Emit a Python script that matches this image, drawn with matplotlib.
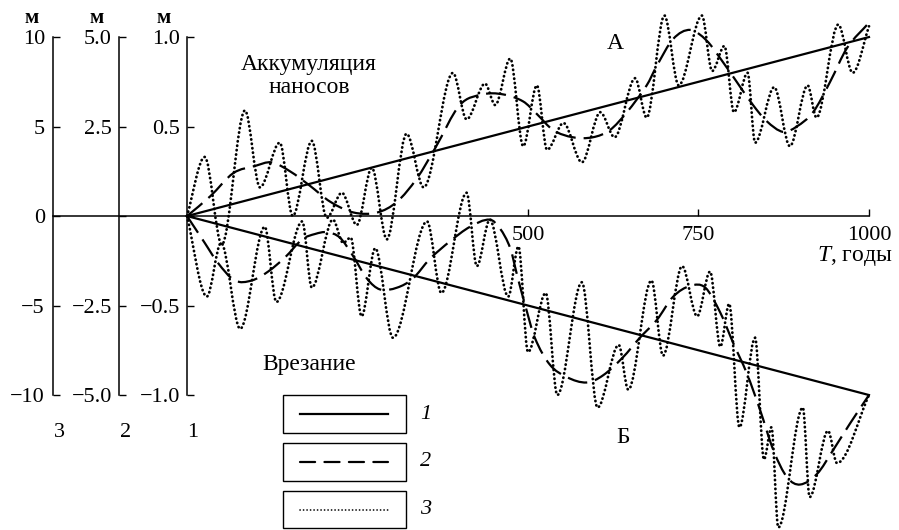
import matplotlib
matplotlib.use("Agg")
import matplotlib.pyplot as plt
from matplotlib.path import Path
from matplotlib.patches import PathPatch, Rectangle

plt.rcParams['font.family'] = ['Liberation Serif', 'DejaVu Serif']
plt.rcParams['mathtext.fontset'] = 'custom'
plt.rcParams['mathtext.rm'] = 'Liberation Serif'
plt.rcParams['mathtext.it'] = 'Liberation Serif:italic'

# T, years ; values in metres on scale 1
trend_t = [0, 1000]
trend_a = [0, 1.0]
trend_b = [0, -1.0]

# curve 2 (dashed), accumulation A
dash_a_t = [0, 34, 68, 100, 124, 151, 180, 210, 244, 279, 308, 337, 364, 400, 434, 463,
            493, 513, 537, 566, 595, 620, 645, 674, 689, 713, 738, 762, 784, 806, 830,
            850, 874, 894, 918, 943, 968, 1000]
dash_a_y = [0, 0.11, 0.24, 0.28, 0.30, 0.25, 0.17, 0.08, 0.02, 0.02, 0.08, 0.21, 0.38,
            0.62, 0.68, 0.68, 0.64, 0.57, 0.48, 0.44, 0.44, 0.48, 0.58, 0.73, 0.84, 0.99,
            1.04, 0.98, 0.87, 0.75, 0.62, 0.53, 0.47, 0.50, 0.58, 0.75, 0.94, 1.08]

# curve 2 (dashed), incision B
dash_b_t = [0, 26, 45, 70, 95, 119, 144, 169, 188, 205, 224, 243, 264, 283, 308, 331,
            356, 386, 415, 444, 459, 474, 484, 496, 510, 532, 557, 586, 610, 639, 664,
            689, 713, 738, 760, 782, 801, 821, 840, 860, 880, 899, 924, 947, 972, 1000]
dash_b_y = [0, -0.15, -0.26, -0.36, -0.36, -0.31, -0.23, -0.13, -0.10, -0.09, -0.12,
            -0.22, -0.35, -0.41, -0.40, -0.35, -0.24, -0.14, -0.06, -0.02, -0.07, -0.18,
            -0.33, -0.50, -0.68, -0.83, -0.90, -0.93, -0.89, -0.79, -0.68, -0.58, -0.45,
            -0.39, -0.40, -0.54, -0.71, -0.88, -1.08, -1.31, -1.46, -1.50, -1.44, -1.31,
            -1.16, -1.00]

# curve 3 (dotted), turning points, accumulation A
dot_a_t = [0, 26, 51, 85, 107, 136, 155, 183, 205, 227, 249, 271, 293, 322, 347, 390,
           410, 437, 452, 474, 493, 513, 528, 552, 579, 606, 627, 657, 674, 700, 721,
           755, 770, 788, 802, 822, 833, 861, 884, 910, 923, 955, 976, 1000]
dot_a_y = [0, 0.33, -0.16, 0.59, 0.16, 0.41, 0.00, 0.42, -0.01, 0.13, -0.05, 0.27, -0.13,
           0.46, 0.16, 0.80, 0.54, 0.74, 0.62, 0.88, 0.39, 0.73, 0.37, 0.52, 0.30, 0.58,
           0.44, 0.77, 0.55, 1.12, 0.73, 1.12, 0.81, 0.95, 0.58, 0.80, 0.41, 0.72, 0.39,
           0.73, 0.55, 1.07, 0.80, 1.06]

# curve 3 (dotted), turning points, incision B
dot_b_t = [0, 29, 50, 78, 114, 131, 169, 183, 214, 229, 240, 256, 276, 302, 352, 373,
           410, 425, 444, 471, 486, 500, 526, 543, 579, 602, 633, 647, 681, 698, 726,
           748, 767, 782, 795, 810, 833, 846, 857, 867, 903, 913, 940, 953, 1000]
dot_b_y = [0, -0.45, -0.15, -0.63, -0.06, -0.48, -0.03, -0.40, -0.02, -0.15, -0.12,
           -0.56, -0.18, -0.68, -0.03, -0.43, 0.13, -0.28, -0.02, -0.45, -0.17, -0.76,
           -0.43, -1.00, -0.37, -1.07, -0.72, -0.97, -0.36, -0.78, -0.28, -0.56, -0.31,
           -0.73, -0.49, -1.18, -0.68, -1.36, -1.18, -1.74, -1.07, -1.57, -1.20, -1.38,
           -1.00]

# scales: 1 (m), 2, 3
scale1_ticks = [-1.0, -0.5, 0, 0.5, 1.0]
scale1_labels = ['\u22121.0', '\u22120.5', '', '0.5', '1.0']
scale2_ticks = [-5.0, -2.5, 0, 2.5, 5.0]
scale2_labels = ['\u22125.0', '\u22122.5', '', '2.5', '5.0']
scale3_ticks = [-10, -5, 0, 5, 10]
scale3_labels = ['\u221210', '\u22125', '0', '5', '10']
t_ticks = [500, 750, 1000]
t_labels = ['500', '750', '1000']


def smooth(xs, ys, turning):
    # cubic pieces through the read points; flat tangents at turning points
    n = len(xs)
    slopes = []
    for i in range(n):
        if i == 0:
            s = (ys[1] - ys[0]) / (xs[1] - xs[0])
        elif i == n - 1:
            s = (ys[-1] - ys[-2]) / (xs[-1] - xs[-2])
        elif turning:
            s = 0.0
        else:
            s = (ys[i + 1] - ys[i - 1]) / (xs[i + 1] - xs[i - 1])
        slopes.append(s)
    verts = [(xs[0], ys[0])]
    codes = [Path.MOVETO]
    for i in range(n - 1):
        d = (xs[i + 1] - xs[i]) / 3
        verts += [(xs[i] + d, ys[i] + slopes[i] * d),
                  (xs[i + 1] - d, ys[i + 1] - slopes[i + 1] * d),
                  (xs[i + 1], ys[i + 1])]
        codes += [Path.CURVE4] * 3
    return Path(verts, codes)


fig = plt.figure(figsize=(8.99, 5.30), dpi=100)
ax = fig.add_axes([0, 0, 1, 1])
ax.set_xlim(-274.2, 1044.0)
ax.set_ylim(-1.754, 1.207)

ax.plot(trend_t, trend_a, color='black', lw=1.6)
ax.plot(trend_t, trend_b, color='black', lw=1.6)
for xs, ys in [(dash_a_t, dash_a_y), (dash_b_t, dash_b_y)]:
    ax.add_patch(PathPatch(smooth(xs, ys, False), fill=False, ec='black', lw=1.6,
                           ls=(0, (9, 3.6))))
for xs, ys in [(dot_a_t, dot_a_y), (dot_b_t, dot_b_y)]:
    ax.add_patch(PathPatch(smooth(xs, ys, True), fill=False, ec='black', lw=2.0,
                           ls=(0, (0.1, 1.5)), capstyle='round'))

# axes
ax.spines['top'].set_visible(False)
ax.spines['right'].set_visible(False)
ax.spines['left'].set_position(('data', 0))
ax.spines['left'].set_bounds(-1, 1)
ax.spines['bottom'].set_position(('data', 0))
ax.spines['bottom'].set_bounds(-196, 1000)
for s in ['left', 'bottom']:
    ax.spines[s].set_linewidth(1.1)
ax.set_yticks(scale1_ticks)
ax.set_yticklabels(scale1_labels)
ax.set_xticks(t_ticks)
ax.set_xticklabels(t_labels)
ax.tick_params(axis='y', direction='in', length=5, width=1, pad=5, labelsize=16)
ax.tick_params(axis='x', direction='in', length=5, width=1, pad=7, labelsize=16)

for xpos, factor, ticks, labels, pad in [(-100, 5, scale2_ticks, scale2_labels, 5),
                                          (-196, 10, scale3_ticks, scale3_labels, 6)]:
    tw = ax.twinx()
    tw.set_ylim(-1.754 * factor, 1.207 * factor)
    for s in ['top', 'right', 'bottom']:
        tw.spines[s].set_visible(False)
    tw.spines['left'].set_visible(True)
    tw.spines['left'].set_position(('data', xpos))
    tw.spines['left'].set_bounds(-factor, factor)
    tw.spines['left'].set_linewidth(1.1)
    tw.yaxis.set_ticks_position('left')
    tw.set_yticks(ticks)
    tw.set_yticklabels(labels)
    tw.tick_params(axis='y', direction='in', length=5, width=1, pad=pad, labelsize=16)

# labels
for x, s in [(-227.3, '\u043c'), (-131.9, '\u043c'), (-33.7, '\u043c')]:
    ax.text(x, 1.106, s, ha='center', va='center', fontsize=15, fontweight='bold')
for x, s in [(-187.7, '3'), (-89.4, '2'), (8.8, '1')]:
    ax.text(x, -1.212, s, ha='center', va='center', fontsize=16)
ax.text(178.9, 0.782, 'Аккумуляция\nнаносов', ha='center', va='center', fontsize=17,
        linespacing=1.1)
ax.text(178.9, -0.832, 'Врезание', ha='center', va='center', fontsize=17)
ax.text(627.6, 0.966, 'А', ha='center', va='center', fontsize=17)
ax.text(639.3, -1.240, 'Б', ha='center', va='center', fontsize=17)
ax.text(1035.2, -0.223, '$T$, годы', ha='right', va='center', fontsize=17)

# key
key_y = [-1.106, -1.374, -1.640]
key_styles = ['-', (0, (6.8, 4.2)), (0, (0.1, 2.0))]
key_widths = [1.6, 1.6, 1.2]
for y, st, w, lab in zip(key_y, key_styles, key_widths, ['1', '2', '3']):
    ax.add_patch(Rectangle((140.8, y - 0.104), 180.3, 0.208, fill=False, ec='black', lw=1.0))
    ax.plot([165.7, 294.7], [y, y], color='black', lw=w, ls=st, dash_capstyle='round')
    ax.text(341.6, y, lab, ha='left', va='center', fontsize=16, style='italic')

fig.savefig('out.png', dpi=100)
